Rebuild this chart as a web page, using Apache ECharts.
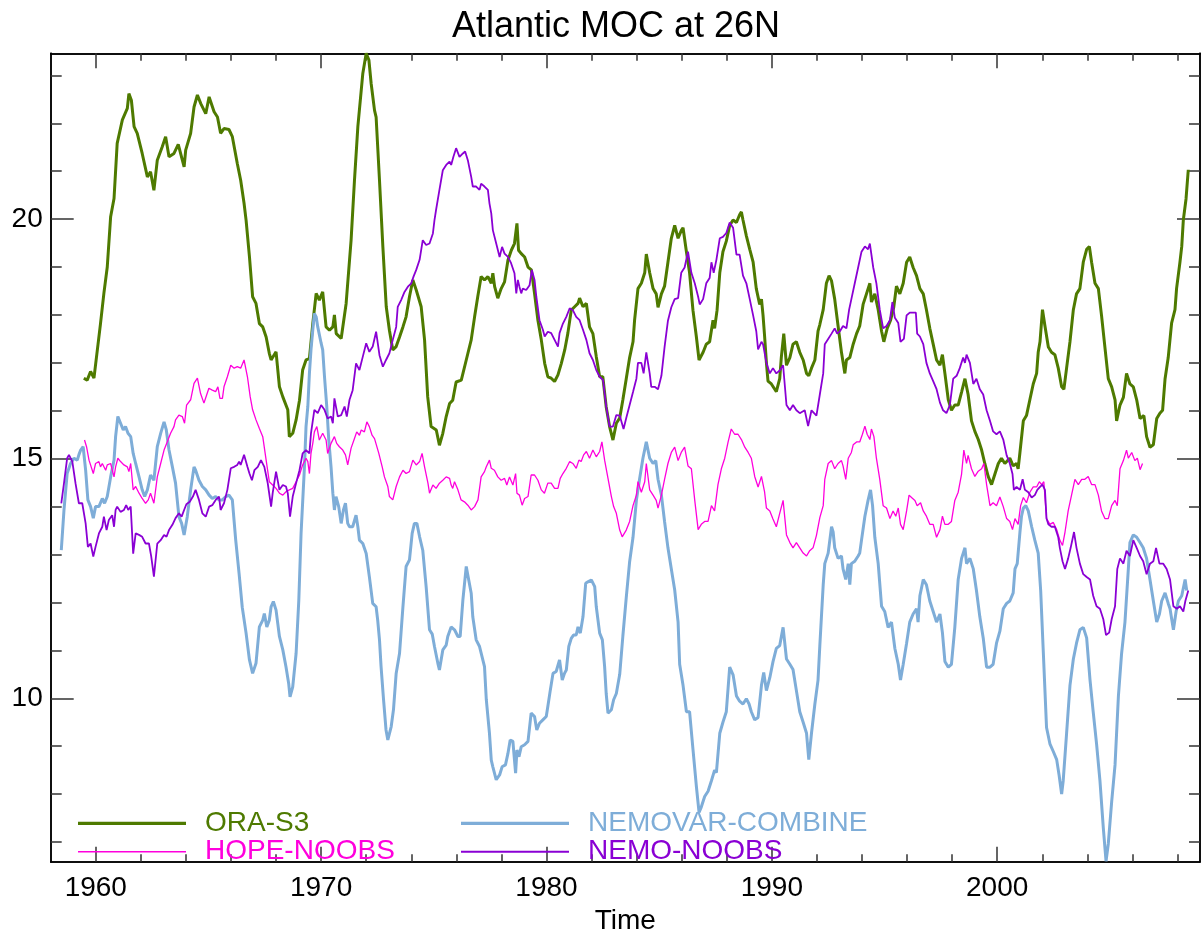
<!DOCTYPE html>
<html>
<head>
<meta charset="utf-8">
<script src="https://cdn.jsdelivr.net/npm/echarts@6/dist/echarts.min.js"></script>
<style>html,body{margin:0;padding:0;background:#fff}#c{width:1203px;height:934px}</style>
</head>
<body>
<div id="c"></div>
<script>
// ---- data: [year, Sv] ----
const oraS3 = [[1959.47,16.68],[1959.62,16.64],[1959.7,16.64],[1959.77,16.82],[1959.92,16.68],[1960.07,17.27],[1960.21,17.82],[1960.36,18.45],[1960.51,19.0],[1960.66,20.05],[1960.81,20.43],[1960.95,21.58],[1961.18,22.07],[1961.4,22.31],[1961.47,22.62],[1961.58,22.48],[1961.7,21.93],[1961.84,21.79],[1962.06,21.37],[1962.29,20.88],[1962.43,20.99],[1962.58,20.6],[1962.73,21.23],[1962.95,21.51],[1963.1,21.72],[1963.25,21.3],[1963.47,21.37],[1963.66,21.56],[1963.92,21.09],[1963.99,21.44],[1964.21,21.79],[1964.36,22.34],[1964.51,22.59],[1964.66,22.41],[1964.88,22.2],[1965.03,22.55],[1965.25,22.24],[1965.4,22.13],[1965.54,21.79],[1965.69,21.89],[1965.91,21.87],[1966.06,21.72],[1966.28,21.16],[1966.43,20.81],[1966.58,20.33],[1966.67,19.98],[1966.82,19.21],[1966.96,18.38],[1967.11,18.24],[1967.26,17.82],[1967.41,17.75],[1967.56,17.54],[1967.7,17.2],[1967.78,17.06],[1968.0,17.23],[1968.15,16.5],[1968.3,16.29],[1968.52,16.02],[1968.59,15.46],[1968.74,15.53],[1968.89,15.81],[1969.04,16.22],[1969.18,16.85],[1969.33,17.06],[1969.48,17.09],[1969.63,17.82],[1969.78,18.45],[1969.92,18.31],[1970.07,18.48],[1970.22,17.75],[1970.37,17.68],[1970.52,17.75],[1970.59,18.0],[1970.67,17.61],[1970.89,17.51],[1971.11,18.24],[1971.33,19.56],[1971.48,20.81],[1971.63,21.93],[1971.85,23.04],[1972.0,23.46],[1972.12,23.32],[1972.22,22.83],[1972.37,22.27],[1972.44,22.13],[1972.59,20.81],[1972.74,19.42],[1972.89,18.17],[1973.03,17.68],[1973.18,17.27],[1973.33,17.34],[1973.48,17.54],[1973.63,17.75],[1973.77,17.96],[1973.92,18.38],[1974.07,18.73],[1974.22,18.52],[1974.44,18.17],[1974.59,17.48],[1974.73,16.29],[1974.88,15.67],[1975.11,15.6],[1975.25,15.28],[1975.4,15.53],[1975.55,15.88],[1975.7,16.15],[1975.84,16.22],[1975.99,16.6],[1976.22,16.64],[1976.44,17.06],[1976.66,17.48],[1976.81,17.96],[1976.95,18.38],[1977.1,18.8],[1977.25,18.73],[1977.4,18.8],[1977.55,18.66],[1977.62,18.87],[1977.7,18.59],[1977.84,18.35],[1977.99,18.55],[1978.14,18.69],[1978.29,19.14],[1978.44,19.35],[1978.58,19.49],[1978.69,19.91],[1978.76,19.35],[1978.88,19.28],[1979.03,19.21],[1979.18,19.0],[1979.33,18.94],[1979.47,18.45],[1979.62,17.89],[1979.77,17.48],[1979.92,16.99],[1980.06,16.71],[1980.21,16.68],[1980.36,16.61],[1980.51,16.75],[1980.66,16.99],[1980.81,17.27],[1980.95,17.62],[1981.1,18.1],[1981.25,18.17],[1981.4,18.24],[1981.47,18.35],[1981.62,18.17],[1981.77,18.24],[1981.91,17.75],[1982.06,17.61],[1982.21,17.13],[1982.36,16.71],[1982.5,16.71],[1982.65,16.08],[1982.8,15.67],[1982.95,15.39],[1983.1,15.74],[1983.25,15.85],[1983.39,16.23],[1983.54,16.67],[1983.69,17.11],[1983.84,17.44],[1983.91,17.89],[1984.06,18.55],[1984.21,18.66],[1984.36,18.88],[1984.43,19.27],[1984.58,18.88],[1984.73,18.55],[1984.87,18.44],[1984.95,18.16],[1985.1,18.44],[1985.24,18.6],[1985.39,19.1],[1985.54,19.6],[1985.69,19.87],[1985.84,19.6],[1985.98,19.76],[1986.06,19.82],[1986.21,19.32],[1986.35,18.88],[1986.5,18.1],[1986.65,17.55],[1986.77,17.06],[1986.95,17.22],[1987.09,17.39],[1987.24,17.44],[1987.39,17.89],[1987.46,17.72],[1987.57,18.1],[1987.69,18.88],[1987.83,19.32],[1987.98,19.54],[1988.13,19.87],[1988.28,19.98],[1988.43,19.93],[1988.57,20.09],[1988.65,20.15],[1988.72,19.98],[1988.87,19.65],[1989.02,19.37],[1989.17,19.1],[1989.31,18.55],[1989.46,18.22],[1989.54,18.33],[1989.61,17.99],[1989.68,17.55],[1989.76,17.0],[1989.83,16.62],[1989.98,16.56],[1990.13,16.45],[1990.2,16.4],[1990.35,16.67],[1990.42,17.11],[1990.53,17.61],[1990.65,16.95],[1990.8,17.11],[1990.94,17.39],[1991.09,17.44],[1991.24,17.22],[1991.39,17.06],[1991.54,16.78],[1991.64,16.73],[1991.76,16.89],[1991.91,17.06],[1992.05,17.66],[1992.13,17.8],[1992.28,18.11],[1992.42,18.66],[1992.54,18.82],[1992.65,18.71],[1992.79,18.33],[1992.94,17.77],[1993.09,17.22],[1993.24,16.78],[1993.31,17.06],[1993.46,17.11],[1993.61,17.39],[1993.76,17.61],[1993.9,17.77],[1994.05,18.22],[1994.2,18.44],[1994.35,18.66],[1994.42,18.27],[1994.57,18.44],[1994.72,18.11],[1994.87,17.66],[1994.97,17.44],[1995.12,17.72],[1995.27,17.89],[1995.41,18.16],[1995.53,18.6],[1995.68,18.44],[1995.83,18.66],[1995.98,19.1],[1996.12,19.21],[1996.27,18.99],[1996.42,18.82],[1996.57,18.55],[1996.72,18.44],[1996.86,18.11],[1997.01,17.72],[1997.16,17.39],[1997.31,17.06],[1997.46,16.95],[1997.57,17.17],[1997.68,16.78],[1997.83,16.23],[1997.97,16.01],[1998.12,16.12],[1998.27,16.12],[1998.42,16.39],[1998.57,16.67],[1998.71,16.34],[1998.86,15.79],[1999.01,15.57],[1999.16,15.4],[1999.31,15.18],[1999.45,14.9],[1999.6,14.63],[1999.75,14.46],[1999.9,14.68],[2000.05,14.9],[2000.19,15.01],[2000.34,14.9],[2000.42,14.9],[2000.56,15.01],[2000.71,14.85],[2000.86,14.9],[2000.93,14.79],[2001.01,15.13],[2001.16,15.79],[2001.3,15.9],[2001.45,16.23],[2001.6,16.56],[2001.75,16.78],[2001.82,17.22],[2001.9,17.44],[2002.01,18.11],[2002.12,17.77],[2002.27,17.33],[2002.41,17.22],[2002.56,17.17],[2002.71,16.89],[2002.86,16.5],[2002.96,16.45],[2003.08,16.89],[2003.23,17.44],[2003.38,18.11],[2003.52,18.44],[2003.67,18.55],[2003.82,19.1],[2003.97,19.37],[2004.09,19.43],[2004.19,19.1],[2004.34,18.66],[2004.49,18.55],[2004.63,17.99],[2004.78,17.33],[2004.93,16.67],[2005.08,16.5],[2005.23,16.23],[2005.3,15.79],[2005.45,16.12],[2005.6,16.28],[2005.74,16.78],[2005.89,16.56],[2006.04,16.5],[2006.19,16.23],[2006.34,15.84],[2006.51,15.9],[2006.63,15.46],[2006.78,15.24],[2006.93,15.29],[2007.08,15.84],[2007.22,15.95],[2007.34,16.01],[2007.45,16.67],[2007.59,17.11],[2007.74,17.83],[2007.89,18.11],[2007.96,18.55],[2008.11,19.1],[2008.19,19.43],[2008.26,19.98],[2008.38,20.42],[2008.48,21.03]];

const nemovarCombine = [[1958.47,13.09],[1958.59,13.93],[1958.73,14.69],[1958.88,14.9],[1959.03,15.01],[1959.18,14.97],[1959.25,15.08],[1959.33,15.18],[1959.44,15.25],[1959.55,14.76],[1959.65,14.14],[1959.77,14.0],[1959.89,13.76],[1959.99,14.0],[1960.14,14.0],[1960.29,14.17],[1960.39,14.07],[1960.51,14.21],[1960.66,14.62],[1960.81,14.97],[1960.88,15.46],[1960.98,15.88],[1961.1,15.74],[1961.22,15.6],[1961.32,15.67],[1961.43,15.53],[1961.55,15.46],[1961.66,15.11],[1961.77,14.9],[1961.92,14.62],[1962.06,14.35],[1962.17,14.21],[1962.29,14.35],[1962.43,14.66],[1962.58,14.55],[1962.73,15.25],[1962.88,15.53],[1963.03,15.77],[1963.13,15.6],[1963.25,15.18],[1963.4,14.83],[1963.54,14.49],[1963.69,13.79],[1963.81,13.65],[1963.92,13.41],[1964.06,13.79],[1964.21,14.35],[1964.36,14.83],[1964.43,14.76],[1964.58,14.55],[1964.73,14.42],[1964.88,14.35],[1965.03,14.24],[1965.17,14.17],[1965.32,14.21],[1965.47,14.14],[1965.62,14.14],[1965.77,14.21],[1965.91,14.24],[1966.06,14.14],[1966.21,13.3],[1966.36,12.6],[1966.5,11.9],[1966.67,11.36],[1966.82,10.8],[1966.96,10.52],[1967.11,10.73],[1967.26,11.49],[1967.41,11.63],[1967.48,11.77],[1967.59,11.49],[1967.7,11.63],[1967.78,11.91],[1967.88,12.02],[1968.0,11.84],[1968.15,11.29],[1968.3,11.01],[1968.44,10.66],[1968.56,10.31],[1968.62,10.03],[1968.74,10.24],[1968.89,10.94],[1969.01,12.05],[1969.11,13.44],[1969.26,14.83],[1969.33,15.67],[1969.41,16.09],[1969.48,16.78],[1969.55,17.27],[1969.63,17.69],[1969.7,18.03],[1969.78,17.96],[1969.85,17.75],[1970.0,17.41],[1970.07,17.27],[1970.15,16.71],[1970.25,16.09],[1970.34,15.39],[1970.44,14.83],[1970.52,14.28],[1970.59,13.93],[1970.66,14.21],[1970.78,14.0],[1970.89,13.65],[1970.99,13.93],[1971.08,14.07],[1971.18,13.65],[1971.26,13.58],[1971.4,13.58],[1971.55,13.82],[1971.63,13.58],[1971.7,13.3],[1971.85,13.23],[1972.0,13.02],[1972.14,12.54],[1972.29,11.98],[1972.44,11.91],[1972.51,11.63],[1972.59,11.22],[1972.66,10.66],[1972.77,9.97],[1972.88,9.34],[1972.96,9.13],[1973.11,9.41],[1973.21,9.76],[1973.33,10.52],[1973.48,10.94],[1973.63,11.91],[1973.77,12.75],[1973.92,12.89],[1974.04,13.44],[1974.14,13.65],[1974.25,13.65],[1974.37,13.37],[1974.51,13.09],[1974.66,12.33],[1974.81,11.43],[1974.93,11.34],[1975.03,11.08],[1975.18,10.73],[1975.25,10.59],[1975.4,11.01],[1975.55,11.11],[1975.62,11.29],[1975.77,11.49],[1975.92,11.43],[1976.07,11.29],[1976.17,11.29],[1976.29,12.05],[1976.44,12.75],[1976.55,12.47],[1976.66,12.19],[1976.73,11.7],[1976.88,11.22],[1977.03,11.08],[1977.1,11.11],[1977.25,10.66],[1977.33,9.97],[1977.4,9.62],[1977.47,9.27],[1977.55,8.71],[1977.62,8.57],[1977.77,8.3],[1977.92,8.4],[1978.03,8.57],[1978.18,8.61],[1978.29,8.85],[1978.39,9.13],[1978.51,9.1],[1978.58,8.71],[1978.63,8.44],[1978.69,8.92],[1978.78,8.78],[1978.88,8.99],[1979.03,9.03],[1979.18,9.1],[1979.32,9.69],[1979.47,9.62],[1979.57,9.34],[1979.69,9.48],[1979.84,9.55],[1979.99,9.62],[1980.06,9.83],[1980.17,10.17],[1980.29,10.52],[1980.43,10.56],[1980.51,10.52],[1980.58,10.8],[1980.7,10.38],[1980.8,10.52],[1980.88,10.59],[1980.99,11.08],[1981.1,11.25],[1981.2,11.32],[1981.32,11.32],[1981.4,11.49],[1981.5,11.36],[1981.62,11.7],[1981.74,12.4],[1981.84,12.43],[1981.99,12.47],[1982.06,12.47],[1982.14,12.33],[1982.21,11.91],[1982.36,11.36],[1982.48,11.22],[1982.58,10.66],[1982.65,10.1],[1982.73,9.69],[1982.88,9.76],[1982.98,9.97],[1983.1,10.1],[1983.25,10.5],[1983.39,11.3],[1983.54,12.1],[1983.69,12.85],[1983.84,13.36],[1983.99,14.13],[1984.13,14.57],[1984.28,15.01],[1984.43,15.35],[1984.58,15.01],[1984.73,14.9],[1984.85,14.96],[1984.95,14.57],[1985.1,14.24],[1985.24,13.69],[1985.39,13.14],[1985.54,12.7],[1985.69,12.26],[1985.84,11.59],[1985.91,10.71],[1986.06,10.27],[1986.21,9.72],[1986.35,9.72],[1986.5,8.94],[1986.65,8.17],[1986.77,7.62],[1986.87,7.73],[1987.02,7.95],[1987.17,8.06],[1987.32,8.28],[1987.46,8.5],[1987.54,8.45],[1987.69,9.27],[1987.83,9.5],[1987.98,9.72],[1988.13,10.65],[1988.28,10.49],[1988.43,10.05],[1988.57,9.94],[1988.72,9.88],[1988.87,9.99],[1988.99,9.88],[1989.09,9.72],[1989.24,9.55],[1989.39,9.6],[1989.54,10.27],[1989.64,10.54],[1989.76,10.16],[1989.91,10.43],[1990.05,10.76],[1990.2,11.04],[1990.35,11.1],[1990.5,11.48],[1990.65,10.82],[1990.8,10.71],[1990.94,10.6],[1991.09,10.16],[1991.24,9.72],[1991.39,9.5],[1991.54,9.27],[1991.64,8.72],[1991.76,9.27],[1991.91,9.88],[1992.05,10.38],[1992.13,11.1],[1992.28,12.37],[1992.35,12.81],[1992.5,13.03],[1992.65,13.58],[1992.72,13.47],[1992.79,13.14],[1992.94,12.92],[1993.09,12.97],[1993.16,12.7],[1993.28,12.48],[1993.39,12.81],[1993.46,12.37],[1993.53,12.81],[1993.68,12.86],[1993.83,12.97],[1993.9,13.03],[1993.98,13.3],[1994.13,13.8],[1994.27,14.13],[1994.38,14.35],[1994.47,14.02],[1994.57,13.36],[1994.72,12.81],[1994.87,11.92],[1995.01,11.81],[1995.16,11.48],[1995.31,11.59],[1995.46,11.04],[1995.61,10.71],[1995.71,10.38],[1995.83,10.71],[1995.98,11.15],[1996.12,11.59],[1996.27,11.76],[1996.42,11.87],[1996.49,11.59],[1996.57,12.14],[1996.72,12.48],[1996.86,12.37],[1997.01,12.03],[1997.16,11.81],[1997.31,11.59],[1997.46,11.76],[1997.57,11.37],[1997.68,10.77],[1997.83,10.65],[1997.97,10.71],[1998.12,11.48],[1998.27,12.48],[1998.42,12.92],[1998.57,13.14],[1998.64,12.81],[1998.79,12.92],[1998.94,12.7],[1999.08,12.25],[1999.23,11.7],[1999.38,11.26],[1999.53,10.65],[1999.68,10.65],[1999.82,10.71],[1999.97,11.15],[2000.12,11.4],[2000.27,11.87],[2000.42,11.98],[2000.56,12.03],[2000.71,12.2],[2000.79,12.7],[2000.89,12.81],[2001.01,13.47],[2001.08,13.8],[2001.16,13.97],[2001.27,14.02],[2001.38,13.91],[2001.53,13.58],[2001.67,13.3],[2001.82,13.03],[2001.93,12.25],[2002.04,11.04],[2002.19,9.39],[2002.34,9.05],[2002.49,8.89],[2002.64,8.72],[2002.75,8.39],[2002.86,8.0],[2002.93,8.28],[2003.08,9.27],[2003.23,10.27],[2003.38,10.82],[2003.52,11.15],[2003.67,11.43],[2003.82,11.48],[2003.97,11.26],[2004.12,10.38],[2004.26,9.72],[2004.41,9.05],[2004.56,8.28],[2004.71,7.29],[2004.83,6.6],[2004.93,6.96],[2005.08,7.84],[2005.23,8.61],[2005.38,10.05],[2005.52,10.93],[2005.67,11.59],[2005.82,12.7],[2005.89,13.25],[2006.04,13.41],[2006.19,13.36],[2006.34,13.25],[2006.48,13.14],[2006.63,12.92],[2006.78,12.48],[2006.93,12.03],[2007.08,11.59],[2007.2,11.76],[2007.3,12.03],[2007.45,12.2],[2007.59,11.98],[2007.67,11.87],[2007.82,11.43],[2007.94,11.81],[2008.04,12.03],[2008.19,12.14],[2008.34,12.48],[2008.41,12.25]];

const hopeNoobs = [[1959.5,15.39],[1959.59,15.25],[1959.7,14.97],[1959.77,14.94],[1959.89,14.69],[1959.99,14.9],[1960.14,14.94],[1960.21,14.83],[1960.29,14.9],[1960.44,14.76],[1960.51,14.87],[1960.66,14.9],[1960.81,14.62],[1960.88,14.83],[1960.98,15.01],[1961.1,14.94],[1961.25,14.87],[1961.4,14.83],[1961.47,14.73],[1961.55,14.9],[1961.66,14.35],[1961.77,14.42],[1961.92,14.28],[1962.06,14.17],[1962.21,14.07],[1962.33,14.14],[1962.43,14.28],[1962.58,14.07],[1962.73,14.62],[1962.88,14.9],[1963.03,15.18],[1963.17,15.35],[1963.32,15.53],[1963.47,15.67],[1963.54,15.81],[1963.69,15.91],[1963.84,15.88],[1963.94,15.74],[1964.03,16.12],[1964.21,16.23],[1964.36,16.57],[1964.51,16.68],[1964.65,16.36],[1964.8,16.16],[1964.92,16.33],[1965.02,16.47],[1965.17,16.43],[1965.32,16.4],[1965.42,16.5],[1965.51,16.26],[1965.62,16.26],[1965.69,16.5],[1965.84,16.71],[1965.99,16.95],[1966.14,16.89],[1966.28,16.92],[1966.43,16.89],[1966.58,17.06],[1966.73,16.71],[1966.85,16.3],[1966.96,16.02],[1967.11,15.81],[1967.26,15.63],[1967.41,15.46],[1967.56,14.97],[1967.7,14.52],[1967.85,14.45],[1968.0,14.38],[1968.15,14.28],[1968.3,14.24],[1968.44,14.31],[1968.59,14.35],[1968.74,14.38],[1968.89,14.52],[1969.04,14.66],[1969.18,14.87],[1969.33,15.01],[1969.41,14.94],[1969.48,14.69],[1969.55,15.11],[1969.63,15.32],[1969.7,15.56],[1969.81,15.67],[1969.92,15.39],[1970.07,15.53],[1970.22,15.39],[1970.29,15.11],[1970.44,15.32],[1970.59,15.46],[1970.69,15.32],[1970.81,15.25],[1970.96,15.18],[1971.08,15.08],[1971.18,14.87],[1971.33,15.22],[1971.48,15.42],[1971.58,15.56],[1971.7,15.49],[1971.78,15.6],[1971.92,15.56],[1972.03,15.77],[1972.14,15.67],[1972.26,15.49],[1972.37,15.42],[1972.44,15.39],[1972.56,15.11],[1972.71,14.83],[1972.81,14.62],[1972.96,14.42],[1973.03,14.21],[1973.18,14.14],[1973.33,14.42],[1973.48,14.62],[1973.63,14.76],[1973.77,14.69],[1973.92,14.73],[1974.07,14.97],[1974.22,14.87],[1974.37,14.94],[1974.48,15.11],[1974.59,14.83],[1974.74,14.49],[1974.81,14.28],[1974.96,14.45],[1975.1,14.38],[1975.25,14.49],[1975.4,14.55],[1975.55,14.62],[1975.7,14.59],[1975.77,14.45],[1975.84,14.38],[1975.92,14.52],[1976.07,14.35],[1976.21,14.14],[1976.36,14.1],[1976.51,14.03],[1976.66,13.93],[1976.81,14.0],[1976.96,14.14],[1977.1,14.62],[1977.25,14.73],[1977.33,14.83],[1977.4,14.87],[1977.47,14.97],[1977.55,14.8],[1977.69,14.76],[1977.84,14.62],[1977.99,14.55],[1978.14,14.59],[1978.24,14.45],[1978.36,14.62],[1978.51,14.45],[1978.63,14.69],[1978.69,14.28],[1978.8,14.24],[1978.92,14.03],[1979.03,14.17],[1979.18,14.21],[1979.32,14.66],[1979.47,14.66],[1979.62,14.55],[1979.77,14.35],[1979.91,14.28],[1980.06,14.49],[1980.21,14.49],[1980.36,14.38],[1980.51,14.38],[1980.61,14.59],[1980.73,14.69],[1980.88,14.8],[1981.03,14.94],[1981.17,14.9],[1981.32,14.8],[1981.44,14.97],[1981.54,14.94],[1981.65,15.08],[1981.77,15.15],[1981.91,15.01],[1982.06,15.18],[1982.21,15.04],[1982.36,15.15],[1982.46,15.35],[1982.58,14.97],[1982.73,14.59],[1982.88,14.21],[1982.98,14.0],[1983.1,13.86],[1983.25,13.51],[1983.36,13.37],[1983.54,13.51],[1983.69,13.69],[1983.84,14.02],[1983.99,14.24],[1984.06,14.52],[1984.21,14.3],[1984.36,14.52],[1984.43,14.9],[1984.58,14.35],[1984.73,14.24],[1984.87,14.13],[1984.95,13.97],[1985.1,14.24],[1985.24,14.57],[1985.39,14.9],[1985.54,15.13],[1985.69,15.24],[1985.84,14.96],[1985.98,15.13],[1986.13,15.24],[1986.28,14.85],[1986.43,14.79],[1986.58,14.13],[1986.73,13.52],[1986.87,13.63],[1987.02,13.69],[1987.17,13.69],[1987.32,14.02],[1987.46,13.91],[1987.61,14.46],[1987.76,14.79],[1987.91,15.01],[1988.06,15.35],[1988.2,15.62],[1988.35,15.51],[1988.5,15.51],[1988.65,15.4],[1988.8,15.24],[1988.95,15.13],[1989.09,15.01],[1989.24,14.63],[1989.39,14.41],[1989.54,14.63],[1989.68,14.3],[1989.76,13.97],[1989.91,13.91],[1990.05,13.74],[1990.2,13.58],[1990.35,13.86],[1990.5,14.13],[1990.65,13.41],[1990.8,13.25],[1990.94,13.14],[1991.09,13.25],[1991.24,13.14],[1991.39,13.03],[1991.54,12.97],[1991.68,13.08],[1991.83,13.14],[1991.98,13.4],[1992.13,13.77],[1992.28,14.02],[1992.35,14.57],[1992.5,14.9],[1992.65,14.96],[1992.79,14.79],[1992.94,14.9],[1993.09,14.96],[1993.16,14.85],[1993.28,14.57],[1993.39,15.01],[1993.53,15.13],[1993.61,15.29],[1993.76,15.35],[1993.9,15.35],[1994.02,15.51],[1994.13,15.68],[1994.23,15.51],[1994.35,15.4],[1994.42,15.62],[1994.53,15.46],[1994.64,15.01],[1994.79,14.57],[1994.94,14.02],[1995.09,13.97],[1995.24,13.75],[1995.38,13.91],[1995.5,13.8],[1995.61,13.97],[1995.71,13.63],[1995.83,13.52],[1995.98,13.91],[1996.09,14.24],[1996.2,14.19],[1996.35,14.13],[1996.45,14.02],[1996.6,14.08],[1996.72,13.91],[1996.86,13.8],[1997.01,13.63],[1997.16,13.63],[1997.31,13.36],[1997.46,13.52],[1997.57,13.8],[1997.68,13.63],[1997.83,13.63],[1997.97,13.69],[1998.12,14.13],[1998.27,14.3],[1998.42,14.68],[1998.52,15.18],[1998.64,14.9],[1998.71,15.07],[1998.86,14.79],[1999.01,14.63],[1999.16,14.74],[1999.31,14.79],[1999.41,14.9],[1999.53,14.46],[1999.68,14.02],[1999.82,14.08],[1999.97,14.02],[2000.12,14.2],[2000.27,14.0],[2000.42,13.75],[2000.56,13.69],[2000.68,13.52],[2000.79,13.75],[2000.93,13.63],[2001.04,14.02],[2001.16,14.19],[2001.3,14.08],[2001.45,14.3],[2001.6,14.41],[2001.75,14.41],[2001.87,14.52],[2001.97,14.46],[2002.07,14.52],[2002.19,13.75],[2002.34,13.63],[2002.49,13.67],[2002.64,13.52],[2002.78,13.3],[2002.9,13.19],[2003.01,13.47],[2003.15,13.91],[2003.3,14.24],[2003.45,14.57],[2003.6,14.46],[2003.75,14.57],[2003.89,14.57],[2004.04,14.63],[2004.19,14.46],[2004.34,14.46],[2004.49,14.24],[2004.63,13.91],[2004.78,13.75],[2004.93,13.75],[2005.08,14.02],[2005.23,14.13],[2005.33,14.02],[2005.45,14.79],[2005.6,14.96],[2005.74,15.18],[2005.82,15.01],[2005.97,15.13],[2006.11,14.96],[2006.22,15.01],[2006.34,14.77],[2006.45,14.9]];

const nemoNoobs = [[1958.47,14.07],[1958.59,14.49],[1958.73,15.01],[1958.81,15.08],[1958.96,14.94],[1959.1,14.49],[1959.25,14.07],[1959.4,14.07],[1959.55,13.65],[1959.65,13.16],[1959.77,13.23],[1959.89,12.96],[1959.99,13.16],[1960.14,13.44],[1960.29,13.58],[1960.36,13.79],[1960.48,13.51],[1960.58,13.72],[1960.73,13.82],[1960.81,13.58],[1960.88,13.93],[1960.95,14.0],[1961.1,13.89],[1961.25,13.93],[1961.35,14.03],[1961.44,13.93],[1961.55,14.0],[1961.66,13.02],[1961.77,13.44],[1961.92,13.41],[1962.06,13.37],[1962.21,13.23],[1962.36,13.23],[1962.46,12.96],[1962.58,12.54],[1962.73,13.23],[1962.88,13.3],[1963.03,13.41],[1963.14,13.37],[1963.25,13.51],[1963.4,13.62],[1963.54,13.76],[1963.69,13.86],[1963.81,13.79],[1963.92,13.93],[1964.02,14.05],[1964.17,14.1],[1964.31,14.21],[1964.43,14.35],[1964.58,14.14],[1964.73,13.86],[1964.88,13.79],[1965.03,14.0],[1965.17,14.03],[1965.32,14.14],[1965.47,14.21],[1965.54,13.93],[1965.69,14.07],[1965.84,14.35],[1965.99,14.8],[1966.14,14.83],[1966.28,14.87],[1966.36,14.94],[1966.43,14.87],[1966.58,15.08],[1966.73,14.83],[1966.82,14.69],[1966.93,14.55],[1967.04,14.76],[1967.19,14.83],[1967.33,14.97],[1967.48,14.83],[1967.63,14.49],[1967.78,14.0],[1967.85,14.28],[1968.0,14.73],[1968.15,14.35],[1968.3,14.45],[1968.44,14.42],[1968.52,14.28],[1968.62,13.79],[1968.74,14.21],[1968.89,14.49],[1969.04,14.76],[1969.18,15.11],[1969.33,15.18],[1969.48,15.11],[1969.55,15.53],[1969.7,16.02],[1969.85,15.95],[1970.0,16.12],[1970.15,16.02],[1970.29,15.84],[1970.44,15.88],[1970.52,15.74],[1970.59,16.26],[1970.74,15.88],[1970.89,15.91],[1971.04,16.09],[1971.14,15.88],[1971.26,16.23],[1971.4,16.43],[1971.55,16.99],[1971.7,16.85],[1971.85,17.13],[1972.0,17.41],[1972.14,17.23],[1972.29,17.34],[1972.44,17.65],[1972.59,17.16],[1972.74,16.92],[1972.88,17.06],[1973.03,17.2],[1973.18,17.48],[1973.33,17.75],[1973.4,18.17],[1973.55,18.31],[1973.7,18.48],[1973.85,18.59],[1974.0,18.66],[1974.1,18.8],[1974.22,18.94],[1974.37,19.15],[1974.51,19.56],[1974.66,19.46],[1974.81,19.49],[1974.96,19.7],[1975.03,19.98],[1975.1,20.19],[1975.25,20.61],[1975.4,21.02],[1975.55,21.13],[1975.7,21.2],[1975.77,21.13],[1975.87,21.3],[1975.99,21.48],[1976.14,21.3],[1976.29,21.37],[1976.39,21.41],[1976.51,21.23],[1976.66,20.88],[1976.73,20.68],[1976.88,20.68],[1977.03,20.61],[1977.1,20.74],[1977.25,20.68],[1977.4,20.61],[1977.47,20.33],[1977.55,20.12],[1977.62,19.77],[1977.77,19.49],[1977.92,19.21],[1978.03,19.42],[1978.14,19.28],[1978.29,19.21],[1978.43,19.08],[1978.58,18.87],[1978.66,18.45],[1978.73,18.73],[1978.8,18.59],[1978.88,18.45],[1978.95,18.55],[1979.1,18.52],[1979.25,18.62],[1979.35,18.94],[1979.47,18.73],[1979.55,18.38],[1979.69,17.89],[1979.84,17.69],[1979.92,17.55],[1980.06,17.65],[1980.21,17.62],[1980.36,17.48],[1980.51,17.34],[1980.58,17.62],[1980.73,17.82],[1980.88,17.96],[1981.03,18.14],[1981.17,18.1],[1981.32,17.96],[1981.47,17.89],[1981.62,17.69],[1981.77,17.48],[1981.91,17.2],[1982.06,17.06],[1982.21,16.85],[1982.36,16.71],[1982.51,16.64],[1982.65,16.09],[1982.8,15.67],[1982.95,15.67],[1983.1,15.91],[1983.25,15.9],[1983.42,15.62],[1983.54,15.85],[1983.69,16.12],[1983.84,16.39],[1983.99,16.67],[1984.06,17.0],[1984.21,17.0],[1984.31,16.78],[1984.43,17.22],[1984.58,16.78],[1984.65,16.5],[1984.8,16.5],[1984.95,16.45],[1985.1,16.73],[1985.24,17.33],[1985.39,17.88],[1985.54,18.16],[1985.69,18.33],[1985.84,18.35],[1985.98,18.88],[1986.13,18.99],[1986.28,19.32],[1986.43,18.88],[1986.58,18.66],[1986.73,18.38],[1986.8,18.22],[1986.95,18.33],[1987.09,18.66],[1987.24,18.77],[1987.32,19.1],[1987.42,18.88],[1987.54,19.15],[1987.69,19.6],[1987.83,19.63],[1987.98,19.71],[1988.13,19.93],[1988.28,19.82],[1988.43,19.26],[1988.57,19.26],[1988.72,18.82],[1988.87,18.66],[1989.02,18.33],[1989.17,17.99],[1989.31,17.66],[1989.39,17.28],[1989.54,17.44],[1989.61,17.39],[1989.76,17.0],[1989.91,16.78],[1990.05,16.89],[1990.2,16.78],[1990.35,16.84],[1990.5,16.95],[1990.65,16.12],[1990.8,16.01],[1990.94,16.12],[1991.09,16.01],[1991.24,15.95],[1991.46,16.01],[1991.61,15.68],[1991.76,16.01],[1991.98,15.9],[1992.13,16.34],[1992.28,16.78],[1992.35,17.39],[1992.5,17.5],[1992.65,17.61],[1992.79,17.72],[1992.9,17.61],[1993.02,17.66],[1993.16,17.77],[1993.31,17.72],[1993.43,18.11],[1993.53,18.33],[1993.68,18.66],[1993.83,18.99],[1993.98,19.32],[1994.13,19.43],[1994.27,19.37],[1994.35,19.49],[1994.5,18.99],[1994.64,18.66],[1994.79,18.11],[1994.94,17.72],[1995.09,17.77],[1995.24,17.89],[1995.35,18.27],[1995.46,17.94],[1995.61,17.83],[1995.71,17.44],[1995.86,17.5],[1995.98,17.99],[1996.12,18.05],[1996.39,18.05],[1996.45,17.61],[1996.57,17.55],[1996.72,17.39],[1996.86,17.0],[1997.01,16.78],[1997.16,16.62],[1997.31,16.45],[1997.46,16.17],[1997.6,16.01],[1997.75,15.95],[1997.9,16.12],[1998.05,16.67],[1998.2,16.73],[1998.34,16.89],[1998.49,17.11],[1998.57,17.0],[1998.64,17.17],[1998.79,17.0],[1998.94,16.56],[1999.08,16.67],[1999.23,16.45],[1999.38,16.34],[1999.53,16.01],[1999.68,15.79],[1999.82,15.57],[1999.97,15.51],[2000.12,15.57],[2000.27,15.4],[2000.42,15.07],[2000.56,14.9],[2000.68,14.68],[2000.74,14.35],[2000.86,14.41],[2001.01,14.35],[2001.13,14.57],[2001.23,14.35],[2001.38,14.3],[2001.53,14.19],[2001.67,14.24],[2001.78,14.35],[2001.9,14.41],[2002.01,14.46],[2002.12,14.35],[2002.19,13.75],[2002.27,13.63],[2002.41,13.58],[2002.56,13.58],[2002.71,13.36],[2002.78,13.14],[2002.9,12.86],[2003.01,12.7],[2003.15,12.92],[2003.26,13.14],[2003.41,13.47],[2003.52,13.14],[2003.67,12.81],[2003.82,12.59],[2003.97,12.53],[2004.12,12.48],[2004.26,12.14],[2004.41,11.92],[2004.56,11.87],[2004.71,11.65],[2004.83,11.32],[2004.97,11.37],[2005.08,11.65],[2005.23,11.92],[2005.33,12.7],[2005.45,12.92],[2005.6,12.81],[2005.74,13.08],[2005.89,12.97],[2006.04,13.3],[2006.19,13.14],[2006.34,12.97],[2006.48,12.86],[2006.63,12.59],[2006.78,12.81],[2006.93,12.86],[2007.05,13.14],[2007.2,12.81],[2007.37,12.81],[2007.52,12.7],[2007.67,12.48],[2007.82,11.92],[2007.97,11.87],[2008.11,11.92],[2008.26,11.81],[2008.35,12.03],[2008.48,12.25]];

// ---- axis ticks and labels ----
const xMajorTicks = [1960, 1970, 1980, 1990, 2000];
const xMinorTicks = [1960, 1962, 1964, 1966, 1968, 1970, 1972, 1974, 1976, 1978, 1980, 1982, 1984, 1986, 1988, 1990, 1992, 1994, 1996, 1998, 2000, 2002, 2004, 2006, 2008];
const yMajorTicks = [10, 15, 20];
const yMinorTicks = [7, 8, 9, 10, 11, 12, 13, 14, 15, 16, 17, 18, 19, 20, 21, 22, 23];
const xRange = [1958, 2009];
const yRange = [6.59, 23.46];

const C_ORA = '#4E7A00', C_NEMOVAR = '#7EADD8', C_HOPE = '#FF00DD', C_NEMO = '#8A00D4';
const FONT = 'Liberation Sans, Arial, sans-serif';

function xAx(pos, ticks, len, labels) {
  return {
    type: 'value', min: xRange[0], max: xRange[1], position: pos,
    axisLine: {show: true, onZero: false, lineStyle: {color: '#000', width: 1.5}},
    axisTick: {show: true, inside: true, length: len, customValues: ticks, lineStyle: {color: '#333', width: 1.5}},
    axisLabel: labels ? {show: true, customValues: ticks, fontSize: 28, color: '#000', margin: 13, fontFamily: FONT,
      formatter: function (v) { return String(Math.round(v)); }} : {show: false},
    splitLine: {show: false}
  };
}
function yAx(pos, ticks, len, labels) {
  return {
    type: 'value', min: yRange[0], max: yRange[1], position: pos,
    axisLine: {show: true, onZero: false, lineStyle: {color: '#000', width: 1.5}},
    axisTick: {show: true, inside: true, length: len, customValues: ticks, lineStyle: {color: '#333', width: 1.5}},
    axisLabel: labels ? {show: true, customValues: ticks, fontSize: 28, color: '#000', margin: 8, fontFamily: FONT,
      formatter: function (v) { return String(Math.round(v)); }} : {show: false},
    splitLine: {show: false}
  };
}

const xAxes = [xAx('bottom', xMajorTicks, 15, true), xAx('bottom', xMinorTicks, 7.5, false),
               xAx('top', xMajorTicks, 15, false), xAx('top', xMinorTicks, 7.5, false)];
Object.assign(xAxes[0], {name: 'Time', nameLocation: 'middle', nameGap: 42,
  nameTextStyle: {fontSize: 28, color: '#000', fontFamily: FONT}});
const yAxes = [yAx('left', yMajorTicks, 23, true), yAx('left', yMinorTicks, 11, false),
               yAx('right', yMajorTicks, 23, false), yAx('right', yMinorTicks, 11, false)];

function leg(name, color, left, top, h) {
  return {
    data: [{name: name}], left: left, top: top, padding: 0, itemGap: 0,
    icon: 'rect', itemWidth: 108, itemHeight: h, selectedMode: false,
    textStyle: {fontSize: 28, color: color, fontFamily: FONT, padding: [0, 0, 0, 14]}
  };
}
function ser(name, data, color, width) {
  return {name: name, type: 'line', data: data, symbol: 'none', showSymbol: false,
    lineStyle: {color: color, width: width}, itemStyle: {color: color},
    xAxisIndex: 0, yAxisIndex: 0, silent: true, z: 2};
}

const chart = echarts.init(document.getElementById('c'), null, {renderer: 'canvas'});
chart.setOption({
  animation: false,
  backgroundColor: '#fff',
  textStyle: {fontFamily: FONT},
  title: {text: 'Atlantic MOC at 26N', left: 452, top: 9, padding: 0,
    textStyle: {fontSize: 36, fontWeight: 'normal', color: '#000', fontFamily: FONT}},
  grid: {left: 50.7, right: 3, top: 53.3, bottom: 72.3, containLabel: false, outerBoundsMode: 'none'},
  xAxis: xAxes,
  yAxis: yAxes,
  legend: [
    leg('ORA-S3', C_ORA, 78, 809.3, 3.3),
    leg('NEMOVAR-COMBINE', C_NEMOVAR, 461, 809.3, 3.3),
    leg('HOPE-NOOBS', C_HOPE, 78, 837.7, 1.6),
    leg('NEMO-NOOBS', C_NEMO, 461, 837.7, 2)
  ],
  series: [
    ser('ORA-S3', oraS3, C_ORA, 3),
    ser('NEMOVAR-COMBINE', nemovarCombine, C_NEMOVAR, 3),
    ser('HOPE-NOOBS', hopeNoobs, C_HOPE, 1.3),
    ser('NEMO-NOOBS', nemoNoobs, C_NEMO, 1.8)
  ]
});
</script>
</body>
</html>
